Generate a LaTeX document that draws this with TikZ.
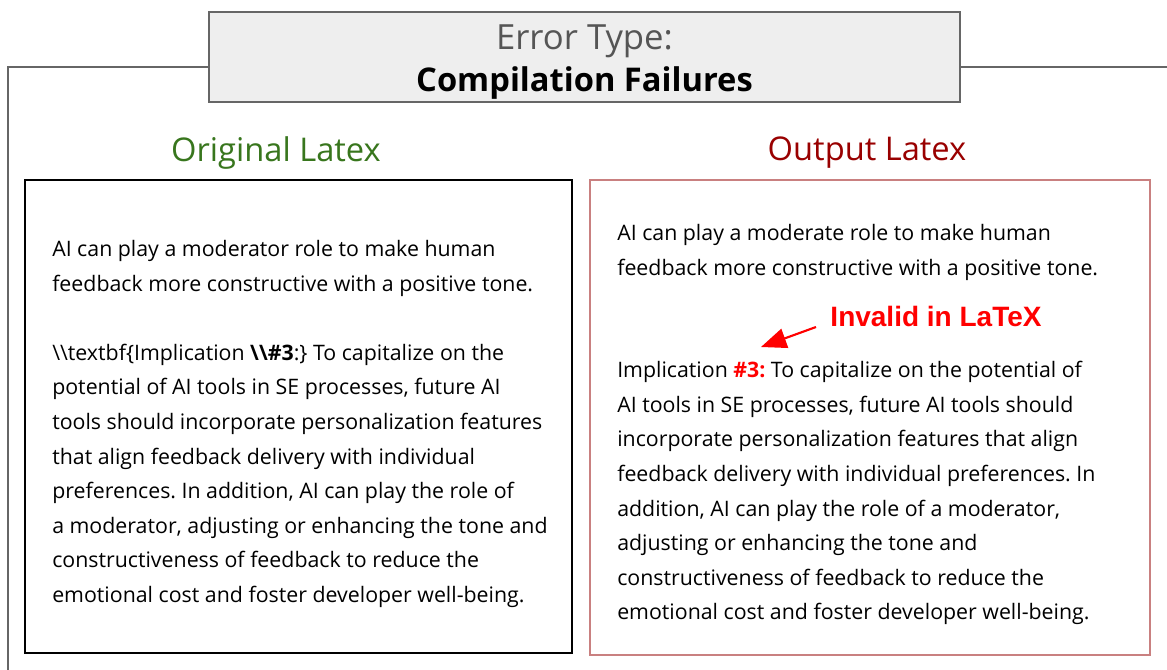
\documentclass[tikz,border=0pt]{standalone}
\usepackage{fontspec}
\setmainfont{Open Sans}
\newfontfamily\labelfont{Liberation Sans}
\usetikzlibrary{arrows.meta}
\frenchspacing

\definecolor{framegrey}{HTML}{666666}
\definecolor{titlefill}{HTML}{EEEEEE}
\definecolor{titletext}{HTML}{555555}
\definecolor{origgreen}{HTML}{38761D}
\definecolor{outred}{HTML}{990000}
\definecolor{outborder}{HTML}{C98080}
\definecolor{alertred}{HTML}{FF0000}

\tikzset{
  framerule/.style={draw=framegrey, line width=1.5pt},
  titlebox/.style={draw=framegrey, fill=titlefill, line width=1.5pt},
  colhead/.style={font=\fontsize{24.5}{29}\selectfont, inner sep=0pt},
  bodytext/.style={font=\fontsize{16}{25.95}\selectfont, align=left, inner sep=0pt, anchor=north west},
  alertarrow/.style={draw=alertred, line width=1.6pt, -{Triangle[length=19pt, width=15pt]}},
}

\begin{document}
\begin{tikzpicture}[x=0.75pt, y=-0.75pt]
  % page area
  \path[use as bounding box] (0,0) rectangle (1167,669);
  \clip (0,0) rectangle (1167,669);
  \fill[white] (0,0) rectangle (1167,669);

  % outer frame, running under the title box
  \coordinate (frameBL) at (8,680);
  \coordinate (frameTL) at (8,67);
  \coordinate (frameTR) at (1180,67);
  \node[titlebox, minimum width=751*0.75pt, minimum height=90*0.75pt, inner sep=0pt]
    (title) at (584.5,57) {};
  \node[align=center, inner sep=0pt, font=\fontsize{24.5}{31.5}\selectfont]
    (titletext) at (584.5,62) {\textcolor{titletext}{\fontsize{26}{31.5}\selectfont Error Type:}\\\textbf{Compilation Failures}};
  \draw[framerule] (frameBL) -- (frameTL) -- (frameTL -| title.west);
  \draw[framerule] (title.east |- frameTR) -- (frameTR);

  % column headings
  \node[colhead, text=origgreen] (orighead) at (276,153) {Original Latex};
  \node[colhead, text=outred] (outhead) at (867,153) {Output Latex};

  % the two text panels
  \node[draw=black, line width=1.5pt, minimum width=547*0.75pt, minimum height=473*0.75pt]
    (origbox) at (298.5,416.5) {};
  \node[draw=outborder, line width=1.5pt, fill=white, minimum width=560*0.75pt, minimum height=475*0.75pt]
    (outbox) at (870,417.5) {};

  \node[bodytext] (origtext) at (52,240) {%
    AI can play a moderator role to make human\\
    feedback more constructive with a positive tone.\\[25.95pt]
    \textbackslash\textbackslash textbf\{Implication \textbf{\textbackslash\textbackslash\#3}:\} To capitalize on the\\
    potential of AI tools in SE processes, future AI\\
    tools should incorporate personalization features\\
    that align feedback delivery with individual\\
    preferences. In addition, AI can play the role of\\
    a moderator, adjusting or enhancing the tone and\\
    constructiveness of feedback to reduce the\\
    emotional cost and foster developer well-being.};

  \node[bodytext] (outtext1) at (617,224) {%
    AI can play a moderate role to make human\\
    feedback more constructive with a positive tone.};

  \node[bodytext] (outtext2) at (617,361) {%
    Implication \textcolor{alertred}{\textbf{\#3:}} To capitalize on the potential of\\
    AI tools in SE processes, future AI tools should\\
    incorporate personalization features that align\\
    feedback delivery with individual preferences. In\\
    addition, AI can play the role of a moderator,\\
    adjusting or enhancing the tone and\\
    constructiveness of feedback to reduce the\\
    emotional cost and foster developer well-being.};

  % callout
  \node[font=\labelfont\bfseries\fontsize{21}{24}\selectfont, text=alertred, inner sep=0pt]
    (invalid) at (936,316) {Invalid in LaTeX};
  \coordinate (calltail) at (816,327);
  \coordinate (calltip) at (761,347);
  \draw[alertarrow] (calltail) -- (calltip);
\end{tikzpicture}
\end{document}
